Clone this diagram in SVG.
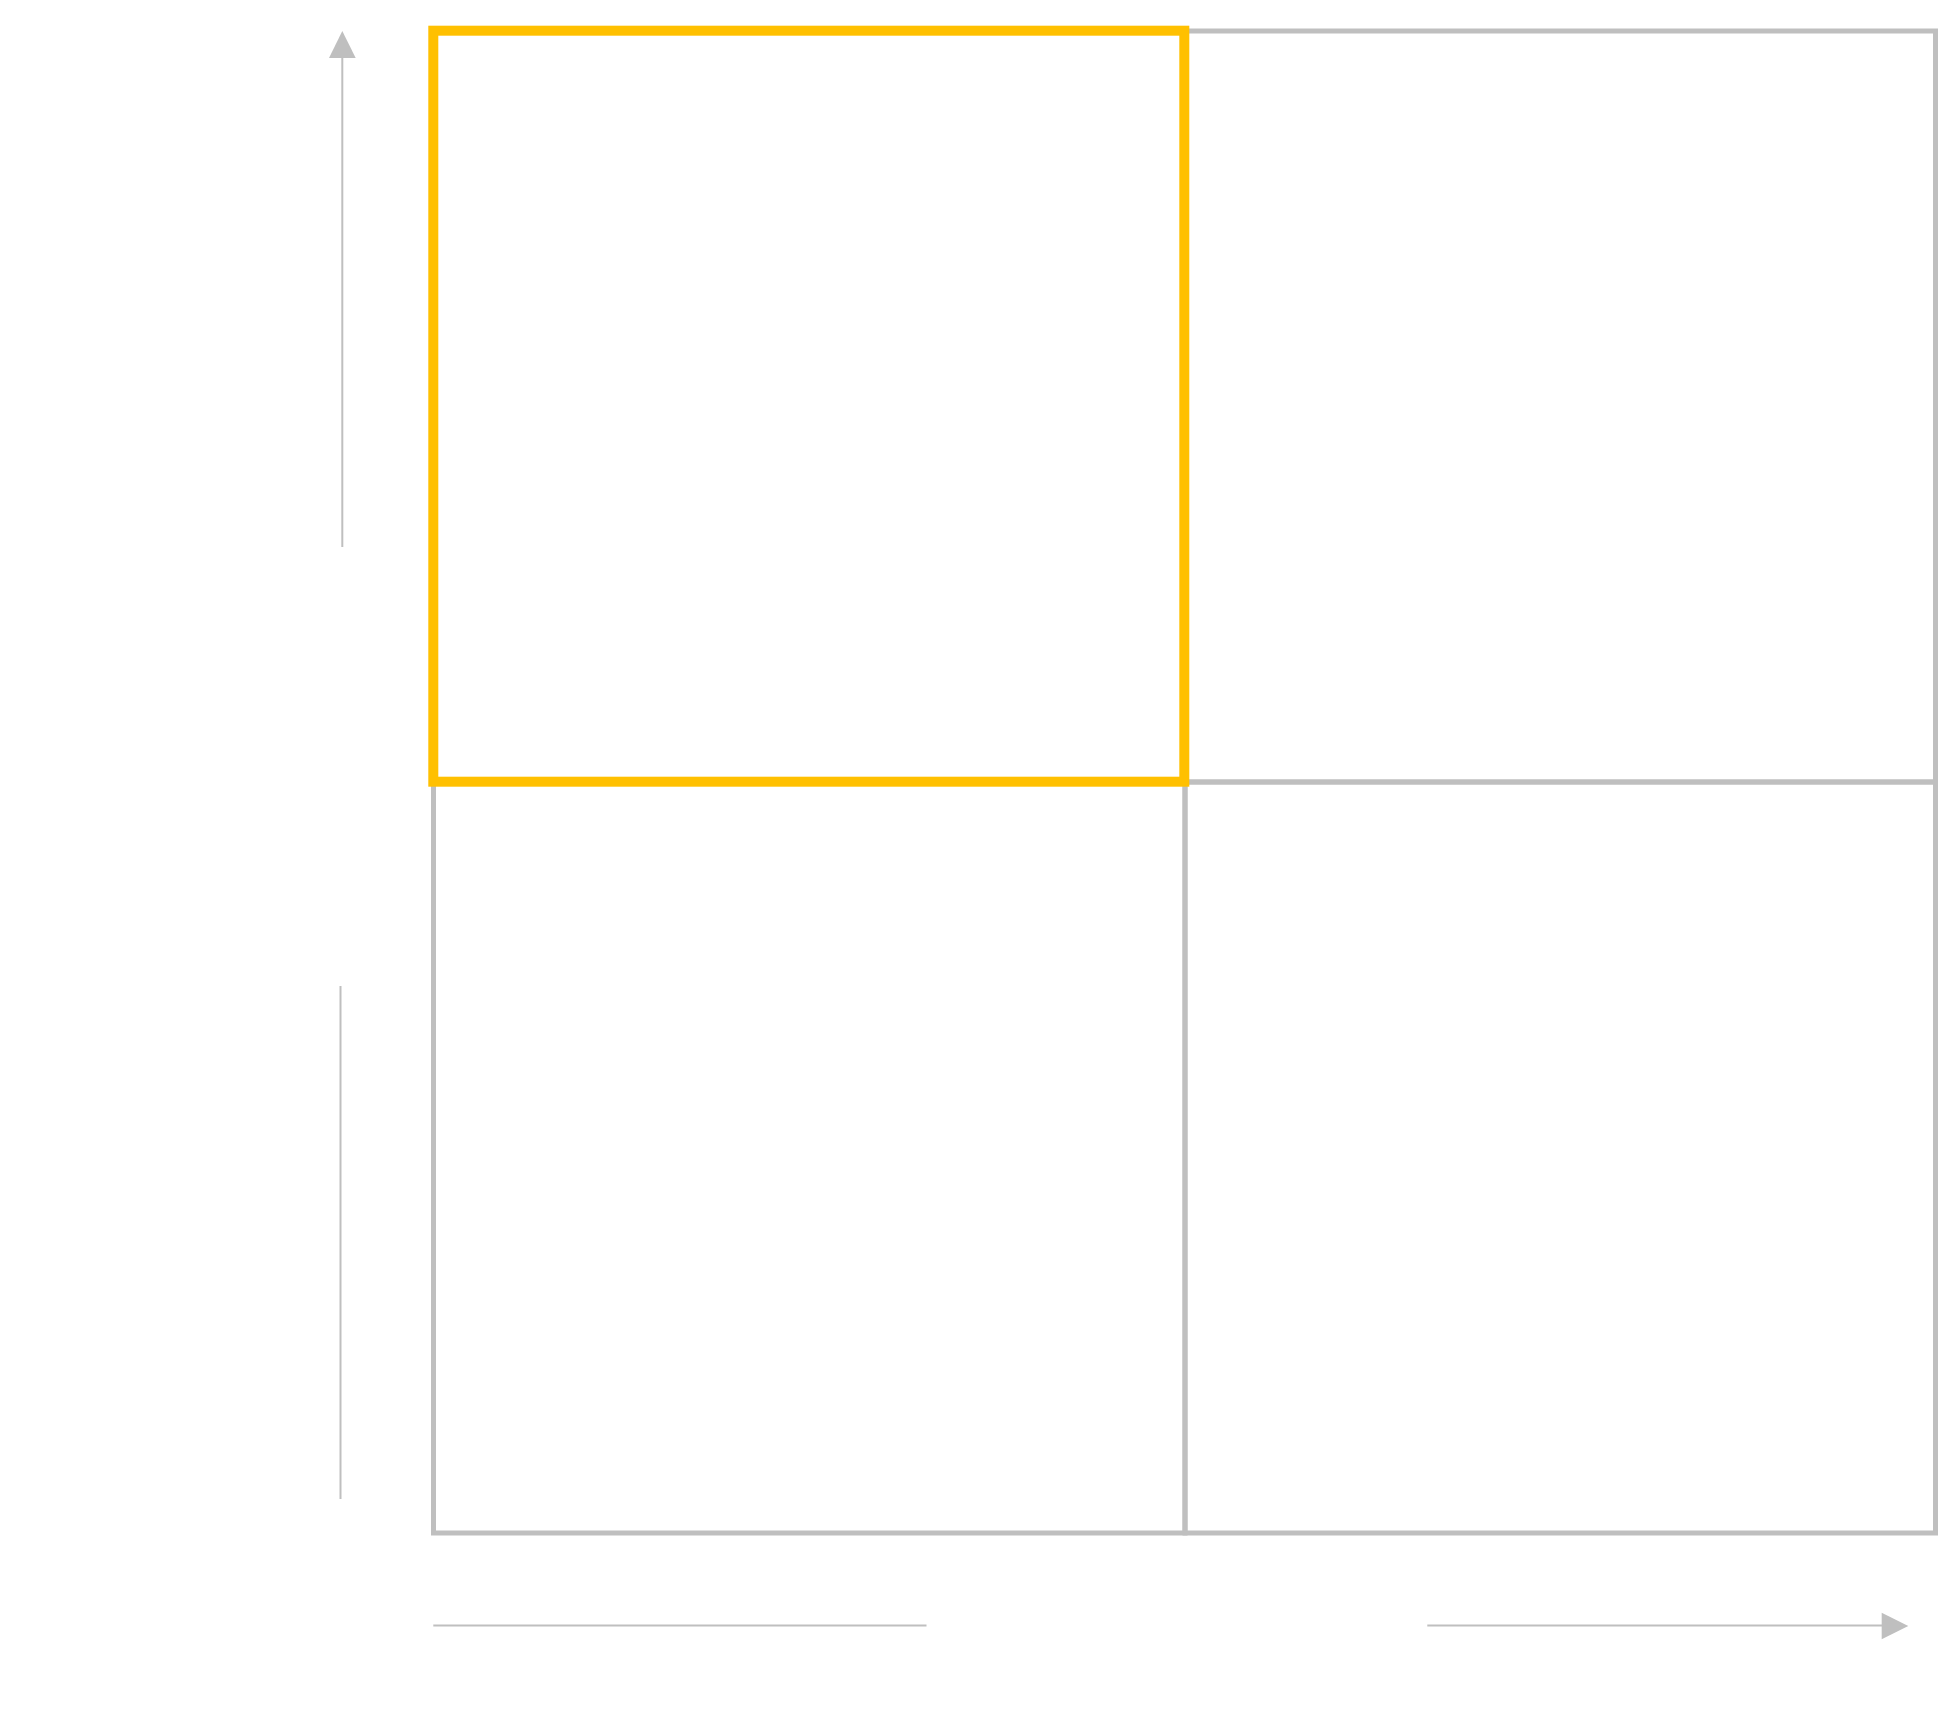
<svg xmlns="http://www.w3.org/2000/svg" width="1938" height="1723" viewBox="0 0 1938 1723">
  <style>
    .cell { fill: none; stroke: #BFBFBF; stroke-width: 5; }
    .focus { fill: none; stroke: #FFC000; stroke-width: 10; stroke-linejoin: miter; }
    .axis { fill: none; stroke: #BFBFBF; stroke-width: 2; }
    .head { fill: #BFBFBF; }
  </style>
  <rect x="0" y="0" width="1938" height="1723" fill="#FFFFFF"/>

  <!-- 2x2 matrix cells -->
  <g id="cell-bottom-left"><rect class="cell" x="433.5" y="782" width="751.5" height="751"/></g>
  <g id="cell-bottom-right"><rect class="cell" x="1185" y="782" width="750.5" height="751"/></g>
  <g id="cell-top-right"><rect class="cell" x="1185" y="31" width="750.5" height="751"/></g>
  <g id="cell-top-left"><rect class="cell" x="433.5" y="31" width="751.5" height="751"/></g>

  <!-- highlighted quadrant -->
  <g id="cell-highlight"><rect class="focus" x="433.3" y="30.7" width="751" height="751"/></g>

  <!-- axes -->
  <g id="connectors">
    <line class="axis" x1="342.3" y1="547" x2="342.3" y2="57"/>
    <polygon class="head" points="342.3,31 355.7,58 329,58"/>
    <line class="axis" x1="340.5" y1="986" x2="340.5" y2="1499"/>
    <line class="axis" x1="433.3" y1="1625.5" x2="926.5" y2="1625.5"/>
    <line class="axis" x1="1427.3" y1="1625.5" x2="1883" y2="1625.5"/>
    <polygon class="head" points="1908.3,1626 1881.7,1639.3 1881.7,1612.7"/>
  </g>
</svg>
